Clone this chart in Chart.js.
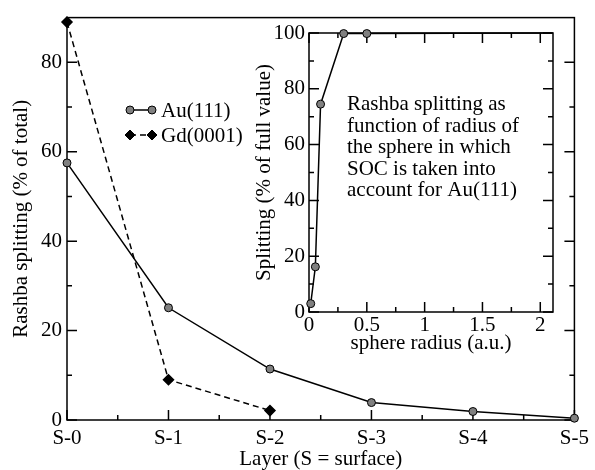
<!DOCTYPE html>
<html>
<head>
<meta charset="utf-8">
<script src="https://cdn.jsdelivr.net/npm/chart.js@4.4.0/dist/chart.umd.min.js"></script>
<style>
  body { margin:0; background:#fff; }
  #wrap { position:relative; width:595px; height:470px; }
  #main { position:absolute; left:0; top:0; }
  #inset { position:absolute; left:250px; top:0; }
</style>
</head>
<body>
<div id="wrap">
  <canvas id="main" width="595" height="470"></canvas>
  <canvas id="inset" width="345" height="360"></canvas>
</div>
<script>
// main plot data
var layers = ['S-0', 'S-1', 'S-2', 'S-3', 'S-4', 'S-5'];
var auSplit = [57.5, 25.1, 11.4, 3.9, 1.9, 0.4];
var gdSplit = [89, 9, 2.1];
var mainYTicks = [0, 20, 40, 60, 80];

// inset data
var sphereRadius = [0.015, 0.055, 0.1, 0.3, 0.5, 2.1];
var radiusSplit = [3, 16.2, 74.5, 99.8, 99.8, 100];
var insetXTicks = [0, 0.5, 1, 1.5, 2];
var insetYTicks = [0, 20, 40, 60, 80, 100];
var insetNote = ['Rashba splitting as', 'function of radius of', 'the sphere in which', 'SOC is taken into', 'account for Au(111)'];

Chart.defaults.font.family = "'Liberation Serif', 'Times New Roman', serif";
Chart.defaults.font.size = 21;
Chart.defaults.color = '#000';

function minors(list, max) {
  var out = [];
  for (var i = 0; i < list.length; i++) {
    var step = i < list.length - 1 ? list[i+1] - list[i] : list[i] - list[i-1];
    var m = list[i] + step / 2;
    if (m < max - 1e-6) out.push(m);
  }
  return out;
}

// frame + inward ticks (xmgrace style)
function frameTicks(xTicks, yTicks, topTicks) {
  return {
    id: 'frameTicks',
    beforeDatasetsDraw: function(chart) {
      var ctx = chart.ctx, a = chart.chartArea;
      var xs = chart.scales.x, ys = chart.scales.y;
      ctx.save();
      ctx.strokeStyle = '#000';
      ctx.lineWidth = 1.5;
      ctx.strokeRect(a.left, a.top, a.right - a.left, a.bottom - a.top);
      ctx.beginPath();
      function xt(v, len) {
        var p = xs.getPixelForValue(v);
        ctx.moveTo(p, a.bottom); ctx.lineTo(p, a.bottom - len);
        if (topTicks) { ctx.moveTo(p, a.top); ctx.lineTo(p, a.top + len); }
      }
      function yt(v, len) {
        var p = ys.getPixelForValue(v);
        ctx.moveTo(a.left, p); ctx.lineTo(a.left + len, p);
        ctx.moveTo(a.right, p); ctx.lineTo(a.right - len, p);
      }
      xTicks.forEach(function(v) { xt(v, 10); });
      minors(xTicks, xs.max).forEach(function(v) { xt(v, 5); });
      yTicks.forEach(function(v) { yt(v, 10); });
      minors(yTicks, ys.max).forEach(function(v) { yt(v, 5); });
      ctx.stroke();
      ctx.restore();
    }
  };
}

function marker(ctx, style, x, y) {
  ctx.beginPath();
  if (style === 'circle') {
    ctx.arc(x, y, 4, 0, Math.PI * 2);
    ctx.fillStyle = '#808080';
  } else {
    ctx.moveTo(x, y - 5); ctx.lineTo(x + 5, y); ctx.lineTo(x, y + 5); ctx.lineTo(x - 5, y); ctx.closePath();
    ctx.fillStyle = '#000';
  }
  ctx.fill();
  ctx.lineWidth = 1;
  ctx.strokeStyle = '#000';
  ctx.stroke();
}

var legendPlugin = {
  id: 'legendBox',
  afterDatasetsDraw: function(chart) {
    var ctx = chart.ctx;
    ctx.save();
    chart.data.datasets.forEach(function(ds, i) {
      var y = 110 + 25 * i;
      ctx.beginPath();
      ctx.setLineDash(ds.borderDash || []);
      ctx.lineWidth = 1.5;
      ctx.strokeStyle = '#000';
      ctx.moveTo(130, y); ctx.lineTo(152, y);
      ctx.stroke();
      ctx.setLineDash([]);
      var st = ds.pointStyle === 'rectRot' ? 'diamond' : 'circle';
      marker(ctx, st, 130, y);
      marker(ctx, st, 152, y);
      ctx.fillStyle = '#000';
      ctx.font = "21px 'Liberation Serif', serif";
      ctx.textBaseline = 'middle';
      ctx.textAlign = 'left';
      ctx.fillText(ds.label, 161, y + 1);
    });
    ctx.restore();
  }
};

new Chart(document.getElementById('main'), {
  type: 'line',
  data: {
    datasets: [{
      label: 'Au(111)',
      data: auSplit.map(function(v, i) { return {x: i, y: v}; }),
      borderColor: '#000', borderWidth: 1.5,
      pointBackgroundColor: '#808080', pointBorderColor: '#000', pointBorderWidth: 1, pointRadius: 4,
      clip: false
    }, {
      label: 'Gd(0001)',
      data: gdSplit.map(function(v, i) { return {x: i, y: v}; }),
      borderColor: '#000', borderWidth: 1.5, borderDash: [6, 4],
      pointStyle: 'rectRot', pointBackgroundColor: '#000', pointBorderColor: '#000', pointRadius: 5,
      clip: false
    }]
  },
  options: {
    responsive: false,
    animation: false,
    layout: { padding: { top: 15, right: 16, left: 0, bottom: 0 } },
    plugins: { legend: { display: false }, tooltip: { enabled: false } },
    scales: {
      x: {
        type: 'linear', min: 0, max: 5,
        afterBuildTicks: function(s) { s.ticks = layers.map(function(l, i) { return {value: i}; }); },
        ticks: { callback: function(v) { return layers[v]; }, padding: 6, maxRotation: 0, autoSkip: false },
        grid: { display: false, drawTicks: false }, border: { display: false },
        title: { display: true, text: 'Layer (S = surface)', padding: 0, font: { lineHeight: 1 } },
        afterFit: function(s) { s.height = 50; }
      },
      y: {
        min: 0, max: 90,
        afterBuildTicks: function(s) { s.ticks = mainYTicks.map(function(v) { return {value: v}; }); },
        ticks: { padding: 5 },
        grid: { display: false, drawTicks: false }, border: { display: false },
        title: { display: true, text: 'Rashba splitting (% of total)', padding: { top: 11, bottom: 0 }, font: { lineHeight: 1 } },
        afterFit: function(s) { s.width = 67; }
      }
    }
  },
  plugins: [frameTicks([0, 1, 2, 3, 4, 5], mainYTicks, false), legendPlugin]
});

var notePlugin = {
  id: 'note',
  afterDatasetsDraw: function(chart) {
    var ctx = chart.ctx;
    ctx.save();
    ctx.fillStyle = '#000';
    ctx.font = "21px 'Liberation Serif', serif";
    ctx.textBaseline = 'alphabetic';
    insetNote.forEach(function(t, i) {
      ctx.fillText(t, 97, 110 + 21.5 * i);
    });
    ctx.restore();
  }
};

new Chart(document.getElementById('inset'), {
  type: 'line',
  data: {
    datasets: [{
      data: sphereRadius.map(function(r, i) { return {x: r, y: radiusSplit[i]}; }),
      borderColor: '#000', borderWidth: 1.5,
      pointBackgroundColor: '#808080', pointBorderColor: '#000', pointBorderWidth: 1,
      pointRadius: sphereRadius.map(function(r, i) { return i === sphereRadius.length - 1 ? 0 : 4; }),
      clip: false
    }]
  },
  options: {
    responsive: false,
    animation: false,
    layout: { padding: { top: 33, right: 42, left: 0, bottom: 0 } },
    plugins: { legend: { display: false }, tooltip: { enabled: false } },
    scales: {
      x: {
        type: 'linear', min: 0, max: 2.11,
        afterBuildTicks: function(s) { s.ticks = insetXTicks.map(function(v) { return {value: v}; }); },
        ticks: { callback: function(v) { return String(v); }, padding: 1, maxRotation: 0, autoSkip: false },
        grid: { display: false, drawTicks: false }, border: { display: false },
        title: { display: true, text: 'sphere radius (a.u.)', padding: { top: 0, bottom: 6 }, font: { lineHeight: 1 } },
        afterFit: function(s) { s.height = 48; }
      },
      y: {
        min: 0, max: 100,
        afterBuildTicks: function(s) { s.ticks = insetYTicks.map(function(v) { return {value: v}; }); },
        ticks: { padding: 4 },
        grid: { display: false, drawTicks: false }, border: { display: false },
        title: { display: true, text: 'Splitting (% of full value)', padding: { top: 4, bottom: 0 }, font: { lineHeight: 1 } },
        afterFit: function(s) { s.width = 59; }
      }
    }
  },
  plugins: [frameTicks(insetXTicks, insetYTicks, true), notePlugin]
});
</script>
</body>
</html>
